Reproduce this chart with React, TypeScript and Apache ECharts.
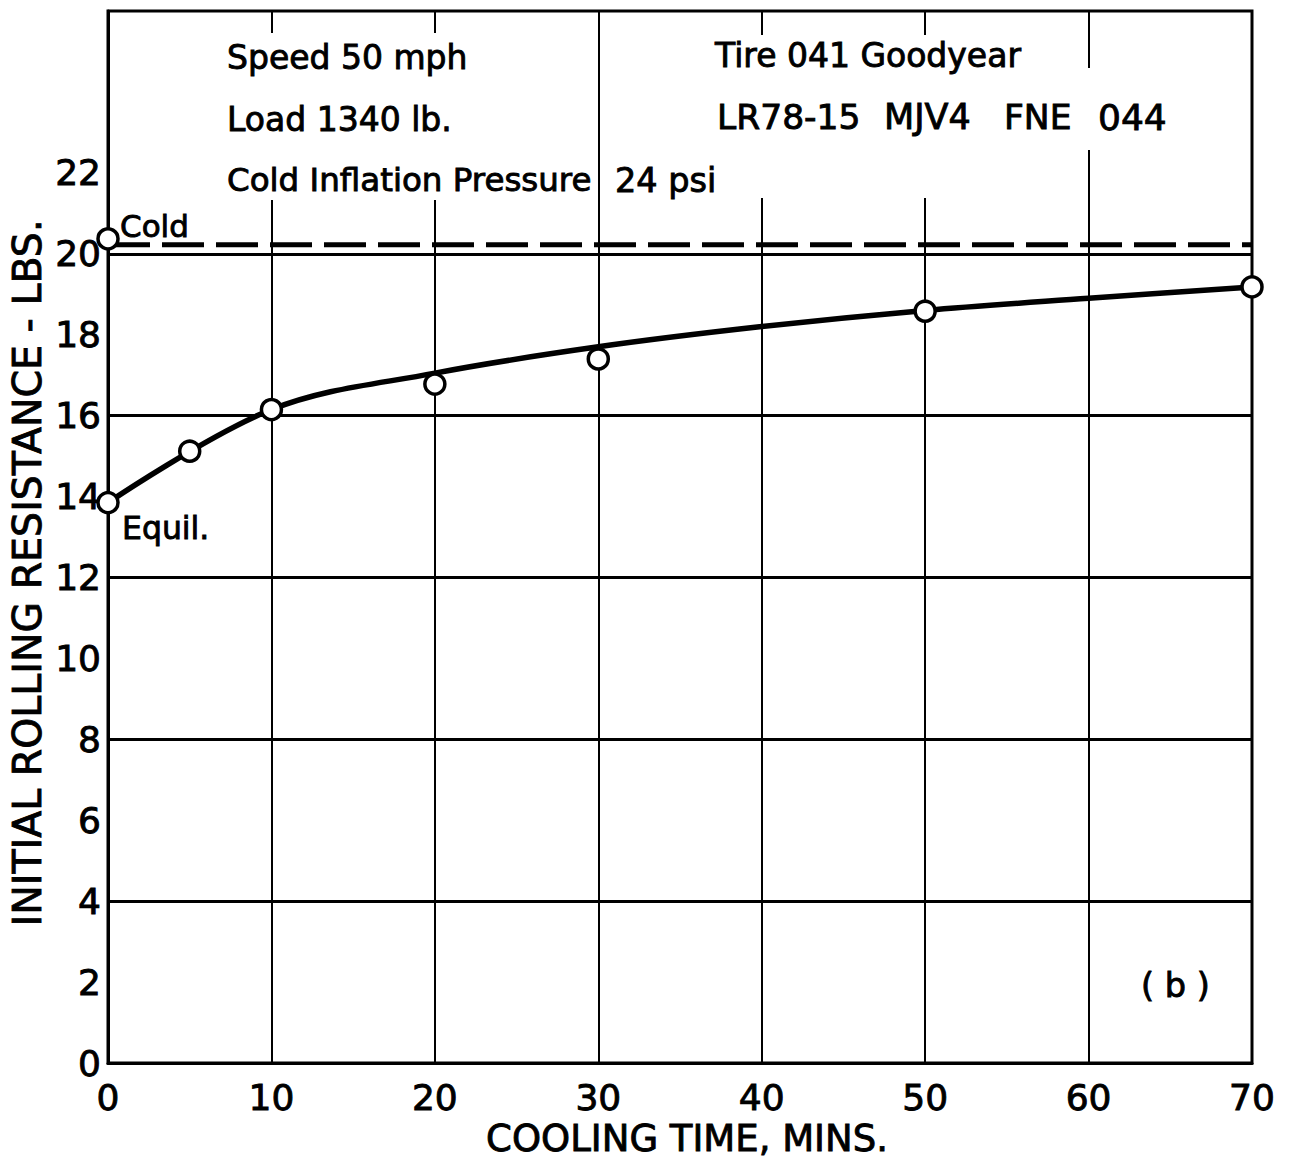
import React, { useEffect, useRef } from "react";
import * as echarts from "echarts";

// Measured points (cooling time in minutes, initial rolling resistance in lbs)
const coolingTimes = [0, 5, 10, 20, 30, 50, 70];
const resistance = [13.85, 15.12, 16.15, 16.78, 17.4, 18.58, 19.18];

// Faired curve drawn through the data
const curveTimes = [0, 10, 20, 30, 40, 50, 60, 70];
const curveValues = [13.85, 16.15, 17.05, 17.7, 18.2, 18.6, 18.9, 19.18];

// Cold (start) value and its reference dashed line
const coldTime = [0];
const coldValue = [20.37];
const coldLineTimes = [0, 70];
const coldLineValues = [20.22, 20.22];

// Axis ticks / gridlines
const xTickLabels = ["0", "10", "20", "30", "40", "50", "60", "70"];
const yTickLabels = ["0", "2", "4", "6", "8", "10", "12", "14", "16", "18", "20", "22"];
const horizontalGridValues = [4, 8, 12, 16, 20];

const FONT = "DejaVu Sans";

export default function App() {
  const ref = useRef<HTMLDivElement>(null);

  useEffect(() => {
    document.body.style.margin = "0";
    if (!ref.current) return;
    const chart = echarts.init(ref.current, null, { renderer: "svg" });

    const txt = (text: string, x: number, y: number, size: number, extra: any = {}) => ({
      type: "text",
      x,
      y,
      z: 20,
      style: {
        text,
        fontFamily: FONT,
        fontSize: size,
        fill: "#000",
        stroke: "#000",
        lineWidth: 0.9,
        align: "left",
        verticalAlign: "middle",
        ...extra,
      },
    });
    const white = (x: number, y: number, w: number, h: number) => ({
      type: "rect",
      z: 15,
      shape: { x, y, width: w, height: h },
      style: { fill: "#fff" },
    });

    const tickLabel = {
      color: "#000",
      fontFamily: FONT,
      fontSize: 36,
      textBorderColor: "#000",
      textBorderWidth: 0.9,
    };

    chart.setOption({
      animation: false,
      backgroundColor: "#fff",
      grid: {
        left: 108,
        right: 47,
        top: 11,
        bottom: 95,
        show: true,
        borderColor: "#000",
        borderWidth: 3,
        backgroundColor: "transparent",
      },
      xAxis: {
        type: "value",
        min: 0,
        max: 70,
        interval: 10,
        axisLine: { show: true, lineStyle: { color: "#000", width: 3 } },
        axisTick: { show: false },
        axisLabel: {
          ...tickLabel,
          margin: 16,
          formatter: (v: number) => (xTickLabels.includes(String(v)) ? String(v) : ""),
        },
        splitLine: { show: true, lineStyle: { color: "#000", width: 2 } },
      },
      yAxis: {
        type: "value",
        min: 0,
        max: 26,
        interval: 2,
        axisLine: { show: true, lineStyle: { color: "#000", width: 3 } },
        axisTick: { show: false },
        axisLabel: {
          ...tickLabel,
          margin: 7,
          formatter: (v: number) => (yTickLabels.includes(String(v)) ? String(v) : ""),
        },
        splitLine: { show: false },
      },
      series: [
        {
          type: "line",
          data: curveTimes.map((t, i) => [t, curveValues[i]]),
          smooth: 0.35,
          showSymbol: false,
          lineStyle: { color: "#000", width: 5.5 },
          z: 3,
          markLine: {
            silent: true,
            symbol: ["none", "none"],
            label: { show: false },
            lineStyle: { color: "#000", width: 3, type: "solid" },
            data: horizontalGridValues.map((v) => ({ yAxis: v })),
            z: 1,
          },
        },
        {
          type: "line",
          data: coldLineTimes.map((t, i) => [t, coldLineValues[i]]),
          showSymbol: false,
          lineStyle: { color: "#000", width: 5, type: [42, 12] },
          z: 3,
        },
        {
          type: "scatter",
          data: coolingTimes.map((t, i) => [t, resistance[i]]),
          symbol: "circle",
          symbolSize: 20,
          itemStyle: { color: "#fff", borderColor: "#000", borderWidth: 3.5, opacity: 1 },
          z: 5,
        },
        {
          type: "scatter",
          data: coldTime.map((t, i) => [t, coldValue[i]]),
          symbol: "circle",
          symbolSize: 20,
          itemStyle: { color: "#fff", borderColor: "#000", borderWidth: 3.5, opacity: 1 },
          z: 5,
        },
      ],
      graphic: [
        white(224, 33, 252, 167),
        white(745, 35, 195, 163),
        white(1075, 68, 25, 82),
        txt("Speed 50 mph", 227, 57, 33),
        txt("Load 1340 lb.", 227, 119, 33),
        txt("Cold Inflation Pressure", 227, 180, 32.5),
        txt("24 psi", 615, 180, 33.5),
        txt("Tire 041 Goodyear", 715, 55, 33),
        txt("LR78-15", 717, 117, 34.5),
        txt("MJV4", 884, 117, 35),
        txt("FNE", 1004, 117, 34.5),
        txt("044", 1098, 117, 36),
        txt("Cold", 120, 226, 31),
        txt("Equil.", 122, 528, 31.5),
        txt("( b )", 1141, 985, 33.5),
        txt("COOLING TIME, MINS.", 687, 1138, 37, { align: "center" }),
        {
          type: "text",
          x: 27,
          y: 573,
          rotation: Math.PI / 2,
          z: 20,
          style: {
            text: "INITIAL ROLLING RESISTANCE - LBS.",
            fontFamily: FONT,
            fontSize: 39.5,
            fill: "#000",
            stroke: "#000",
            lineWidth: 0.9,
            align: "center",
            verticalAlign: "middle",
          },
        },
      ],
    });

    return () => chart.dispose();
  }, []);

  return (
    <div
      ref={ref}
      style={{ position: "absolute", left: 0, top: 0, width: 1299, height: 1158, background: "#fff" }}
    />
  );
}
